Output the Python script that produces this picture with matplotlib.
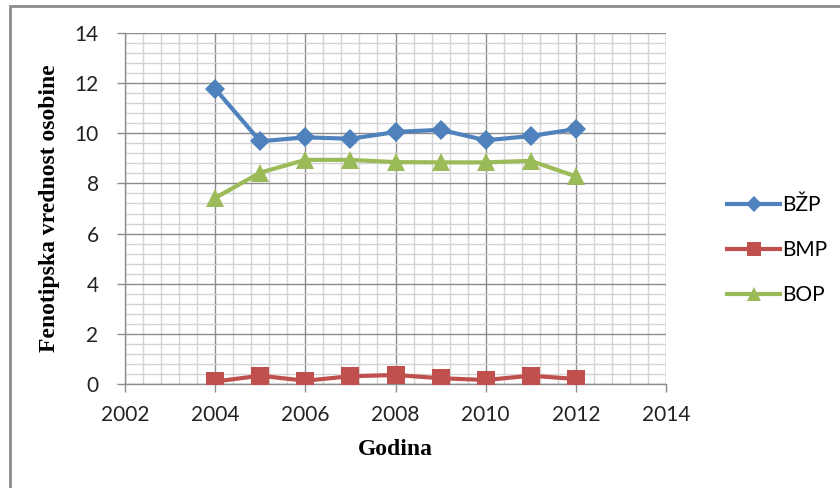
import matplotlib.pyplot as plt
from matplotlib.patches import Rectangle
from matplotlib.ticker import MultipleLocator

years = [2004, 2005, 2006, 2007, 2008, 2009, 2010, 2011, 2012]
bzp = [11.77, 9.68, 9.84, 9.78, 10.05, 10.14, 9.72, 9.89, 10.17]
bmp = [0.10, 0.33, 0.13, 0.31, 0.36, 0.23, 0.16, 0.33, 0.20]
bop = [7.42, 8.43, 8.94, 8.94, 8.85, 8.84, 8.84, 8.90, 8.28]

series_names = ["BŽP", "BMP", "BOP"]
colors = ["#4F81BD", "#C0504D", "#9BBB59"]

tick_font = "Lato"
label_font = "Liberation Serif"

fig = plt.figure(figsize=(8.4, 4.88), dpi=100)
ax = fig.add_axes([125 / 840, 1 - 384 / 488, (666 - 125) / 840, (384 - 33) / 488])

# outer chart frame (cut off at right and bottom like the source)
fig.patches.append(Rectangle((10 / 840, -0.05), 1.2, 1 - 6 / 488 + 0.05, transform=fig.transFigure,
                             fill=False, edgecolor="#8C8C8C", linewidth=2, zorder=0))

ax.plot(years, bzp, color=colors[0], lw=3, marker="D", ms=10.5, mew=0, label=series_names[0], zorder=5)
ax.plot(years, bmp, color=colors[1], lw=3, marker="s", ms=13, mew=0, label=series_names[1], zorder=5)
ax.plot(years, bop, color=colors[2], lw=3, marker="^", ms=13.5, mew=0, label=series_names[2], zorder=5)

ax.set_xlim(2002, 2014)
ax.set_ylim(0, 14)
ax.xaxis.set_major_locator(MultipleLocator(2))
ax.xaxis.set_minor_locator(MultipleLocator(0.4))
ax.yaxis.set_major_locator(MultipleLocator(2))
ax.yaxis.set_minor_locator(MultipleLocator(0.4))

ax.grid(which="minor", color="#D3D3D3", lw=1, zorder=0)
ax.grid(which="major", color="#8C8C8C", lw=1, zorder=1)
ax.set_axisbelow(True)

for side in ["top", "right"]:
    ax.spines[side].set_visible(False)
for side in ["left", "bottom"]:
    ax.spines[side].set_color("#8C8C8C")
    ax.spines[side].set_linewidth(1)

ax.tick_params(which="major", length=6, color="#8C8C8C", width=1, labelsize=15)
ax.tick_params(axis="x", which="major", pad=9)
ax.tick_params(axis="y", which="major", pad=13)
ax.tick_params(which="minor", length=0)
for lbl in ax.get_xticklabels() + ax.get_yticklabels():
    lbl.set_family(tick_font)
    lbl.set_color("#222222")

ax.set_xlabel("Godina", fontsize=17, fontweight="bold", family=label_font, labelpad=10)
ax.set_ylabel("Fenotipska vrednost osobine", fontsize=17, fontweight="bold", family=label_font, labelpad=10)

fig.legend(loc="center left", bbox_to_anchor=(727 / 840, 1 - 250 / 488), bbox_transform=fig.transFigure,
           frameon=False, prop={"family": tick_font, "size": 15}, labelspacing=1.2,
           handlelength=2.55, handletextpad=0.1, markerscale=0.75, borderpad=0, borderaxespad=0)

fig.savefig("out.png", dpi=100)
